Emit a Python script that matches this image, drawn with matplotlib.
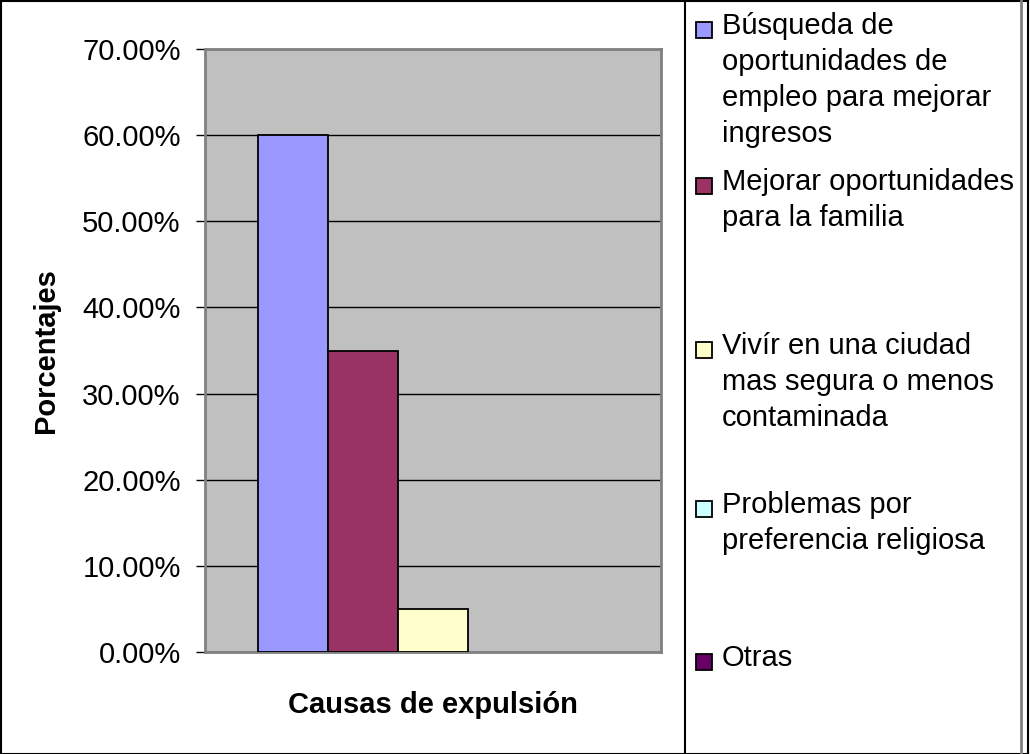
import matplotlib.pyplot as plt
from matplotlib.patches import Rectangle
from matplotlib.ticker import PercentFormatter

# Datos
causas = [
    "Búsqueda de\noportunidades de\nempleo para mejorar\ningresos",
    "Mejorar oportunidades\npara la familia",
    "Vivír en una ciudad\nmas segura o menos\ncontaminada",
    "Problemas por\npreferencia religiosa",
    "Otras",
]
porcentajes = [0.60, 0.35, 0.05, 0.0, 0.0]
colores = ["#9999FF", "#993366", "#FFFFCC", "#CCFFFF", "#660066"]
yticks = [0.0, 0.1, 0.2, 0.3, 0.4, 0.5, 0.6, 0.7]

plt.rcParams['font.family'] = ['Liberation Sans', 'DejaVu Sans']

fig = plt.figure(figsize=(10.30, 7.54), dpi=100)
W, H = 1030, 754

# area del grafico (pixeles medidos en la referencia)
left, right, top, bottom = 205, 661, 49, 652
ax = fig.add_axes([left / W, 1 - bottom / H, (right - left) / W, (bottom - top) / H])
ax.set_facecolor("#C0C0C0")

n = len(porcentajes)
x = list(range(n))
anchos_borde = [1.3 if v > 0 else 0 for v in porcentajes]
bars = ax.bar(x, porcentajes, width=1.0, color=colores, edgecolor="black",
              linewidth=anchos_borde, zorder=3)
ax.set_xlim(-1.257, n - 1 + 1.257)
ax.set_ylim(0, 0.70)
ax.set_yticks(yticks)
ax.yaxis.set_major_formatter(PercentFormatter(1.0, decimals=2))
ax.set_xticks([])
ax.grid(axis="y", color="black", linewidth=1, zorder=1)
ax.tick_params(axis="y", direction="out", length=6.5, width=1, pad=11,
               labelsize=21, color="black")
for side in ax.spines.values():
    side.set_color("#808080")
    side.set_linewidth(2)

ax.set_ylabel("Porcentajes", fontsize=21, fontweight="bold", labelpad=16)
ax.set_xlabel("Causas de expulsión", fontsize=21, fontweight="bold", labelpad=28)

# leyenda manual (entradas espaciadas como en la referencia)
marker_y = [30, 186, 350, 509, 662]
for bar, label, yy in zip(bars, causas, marker_y):
    fig.patches.append(Rectangle((696 / W, 1 - (yy + 8) / H), 16 / W, 16 / H,
                                 transform=fig.transFigure, facecolor=bar.get_facecolor(),
                                 edgecolor="black", linewidth=1.3))
    fig.text(722 / W, 1 - (yy - 18) / H, label, fontsize=21, va="top", ha="left",
             linespacing=1.37)

# marcos
fig.add_artist(plt.Line2D([685 / W, 685 / W], [0, 1], color="black", linewidth=1.5,
                          transform=fig.transFigure))
fig.add_artist(plt.Line2D([1021 / W, 1021 / W], [0, 1], color="#808080", linewidth=2,
                          transform=fig.transFigure))
fig.patches.append(Rectangle((0.0005, 0.0005), 0.998, 0.998, transform=fig.transFigure,
                             fill=False, edgecolor="black", linewidth=1.5))

fig.savefig("out.png", dpi=100, facecolor="white")
